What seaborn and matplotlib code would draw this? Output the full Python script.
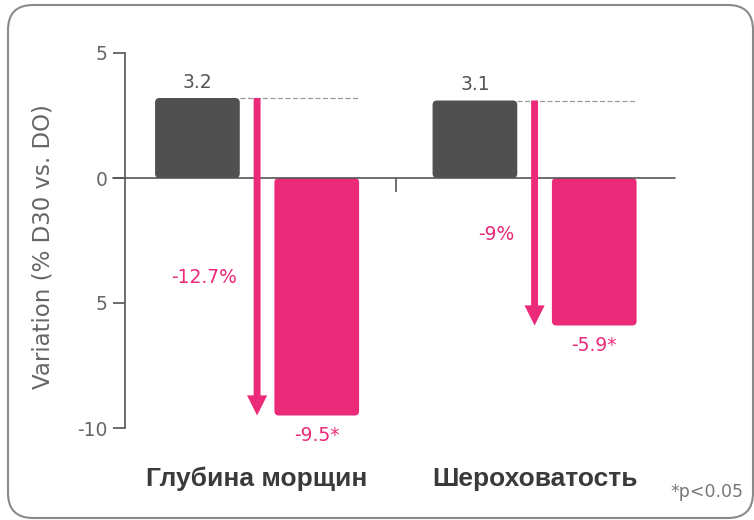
import matplotlib
matplotlib.use("Agg")
import matplotlib.pyplot as plt
import seaborn as sns
import pandas as pd
from matplotlib.patches import FancyBboxPatch
from matplotlib.transforms import IdentityTransform

# ---- data ----
categories = ["Глубина морщин", "Шероховатость"]
series_names = ["D0", "D30"]
values_gray = [3.2, 3.1]
values_pink = [-9.5, -5.9]
labels_gray = ["3.2", "3.1"]
labels_pink = ["-9.5*", "-5.9*"]
arrow_labels = ["-12.7%", "-9%"]
yticks = [5, 0, -5, -10]
ytick_labels = ["5", "0", "5", "-10"]
ylabel = "Variation (% D30 vs. DO)"
footnote = "*p<0.05"

GRAY = "#505050"
PINK = "#EC2A7A"
AXC = "#555555"
TXT = "#666666"

sns.set_theme(style="white")
plt.rcParams["font.family"] = ["DejaVu Sans"]

df = pd.DataFrame({
    "cat": categories * 2,
    "series": [series_names[0]] * len(categories) + [series_names[1]] * len(categories),
    "value": values_gray + values_pink,
})

fig = plt.figure(figsize=(7.54, 5.2), dpi=100)
fig.patch.set_facecolor("white")
ax = fig.add_axes([125 / 754, 92 / 520, 550 / 754, 375 / 520])

sns.barplot(data=df, x="cat", y="value", hue="series", palette=[GRAY, PINK],
            width=0.86, gap=0.29, legend=False, ax=ax, saturation=1,
            errorbar=None, linewidth=0)

ax.set_xlim(-0.476, 1.506)
ax.set_ylim(-10, 5)

# rounded bars
fig.canvas.draw()
inv = ax.transData.inverted()
p0 = inv.transform((0, 0))
p1 = inv.transform((1, 1))
dx_px = p1[0] - p0[0]
dy_px = p1[1] - p0[1]
aspect = dy_px / dx_px
bars = sorted(list(ax.patches), key=lambda p: p.get_x())
geoms = []
for p in bars:
    x, y = p.get_xy()
    w, h = p.get_width(), p.get_height()
    y0 = min(y, y + h)
    hh = abs(h)
    fc = p.get_facecolor()
    p.remove()
    rb = FancyBboxPatch((x, y0), w, hh,
                        boxstyle=f"round,pad=0,rounding_size={4.5 * dx_px}",
                        mutation_aspect=aspect, facecolor=fc, edgecolor="none",
                        zorder=2)
    ax.add_patch(rb)
    geoms.append((x, w))

# spines / axes
for s in ["top", "right", "bottom"]:
    ax.spines[s].set_visible(False)
ax.spines["left"].set_color(AXC)
ax.spines["left"].set_linewidth(1.2)
ax.axhline(0, xmin=-12 / 550, xmax=1, color=AXC, lw=1.2, clip_on=False, zorder=3)
ax.vlines(0.5, -0.56, 0, color=AXC, lw=1.2, zorder=3)

ax.set_yticks(yticks, ytick_labels)
ax.tick_params(axis="y", left=True, length=8.5, width=1.2, color=AXC,
               labelcolor=TXT, labelsize=13.5, pad=4)
ax.set_xticks(range(len(categories)), categories)
ax.tick_params(axis="x", bottom=False, length=0, pad=28)
for t in ax.get_xticklabels():
    t.set_fontfamily(["Liberation Sans", "DejaVu Sans"])
    t.set_fontweight("bold")
    t.set_fontsize(19)
    t.set_color("#3a3a3a")
ax.set_xlabel("")
ax.set_ylabel(ylabel, fontsize=16.5, color=TXT)
ax.yaxis.label.set_va("center")
ax.yaxis.set_label_coords(-0.149, 0.485)

# annotations per group
for i in range(len(categories)):
    gx, gw = geoms[2 * i]
    px, pw = geoms[2 * i + 1]
    g = values_gray[i]
    pv = values_pink[i]
    # dashed reference line
    ax.plot([gx + gw, px + pw], [g, g], ls=(0, (4, 2)), color="#999999",
            lw=0.9, zorder=1)
    # arrow
    ax.annotate("", xy=(i, pv), xytext=(i, g),
                arrowprops=dict(facecolor=PINK, edgecolor="none", width=5,
                                headwidth=14.5, headlength=14.5, shrink=0),
                zorder=4)
    ax.annotate(labels_gray[i], xy=(gx + gw / 2, g), xytext=(0, 16),
                textcoords="offset pixels", ha="center", va="center",
                fontsize=13.5, color=AXC)
    ax.annotate(labels_pink[i], xy=(px + pw / 2, pv), xytext=(0, -20),
                textcoords="offset pixels", ha="center", va="center",
                fontsize=13.5, color=PINK)
    ax.annotate(arrow_labels[i], xy=(i, (g + pv) / 2), xytext=(-20, -21),
                textcoords="offset pixels", ha="right", va="center",
                fontsize=13.5, color=PINK)

fig.text(743 / 754, 1 - 497 / 520, footnote, ha="right", va="baseline",
         fontsize=12.5, color="#777777")

frame = FancyBboxPatch((8, 2), 745, 513, boxstyle="round,pad=0,rounding_size=25",
                       transform=IdentityTransform(), fill=False,
                       edgecolor="#8a8a8a", lw=1.5)
fig.add_artist(frame)

fig.savefig("out.png", dpi=100)
